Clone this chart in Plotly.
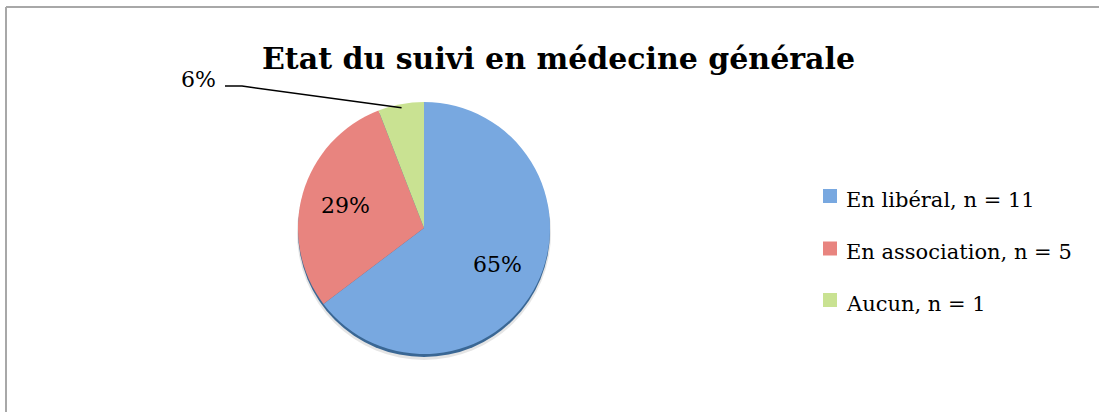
import math
import plotly.graph_objects as go

# ---- data ----
categories = ["En libéral", "En association", "Aucun"]
counts = [11, 5, 1]
colors = ["#78a8e0", "#e8847f", "#c9e292"]
title_text = "Etat du suivi en médecine générale"

W, H = 1099, 412
FONT = "DejaVu Serif"

# pie geometry (pixels)
CX, CY, R = 424, 228, 126

def px(x):
    return x / W

def py(y):
    return 1 - y / H

total = sum(counts)
fracs = [c / total for c in counts]
pct_labels = [f"{round(f * 100)}%" for f in fracs]
legend_labels = [f"{c}, n = {n}" for c, n in zip(categories, counts)]

fig = go.Figure()
fig.add_trace(go.Pie(
    labels=categories,
    values=counts,
    marker=dict(colors=colors, line=dict(width=0)),
    sort=False,
    direction="clockwise",
    rotation=0,
    textinfo="none",
    hoverinfo="label+value+percent",
    showlegend=False,
    domain=dict(x=[px(CX - R), px(CX + R)], y=[py(CY + R), py(CY - R)]),
))

shapes = []
# chart frame (top & left edges visible)
shapes.append(dict(type="line", xref="paper", yref="paper", x0=px(6), x1=1.0, y0=py(7), y1=py(7),
                   line=dict(color="#a8a8a8", width=2)))
shapes.append(dict(type="line", xref="paper", yref="paper", x0=px(6), x1=px(6), y0=py(7), y1=0,
                   line=dict(color="#a8a8a8", width=2)))
# soft shadow + rim below the pie
shapes.append(dict(type="circle", xref="paper", yref="paper", layer="below",
                   x0=px(CX - R - 1), x1=px(CX + R + 1), y0=py(CY + R + 6), y1=py(CY - R + 4),
                   fillcolor="rgba(0,0,0,0.10)", line=dict(width=0)))
shapes.append(dict(type="circle", xref="paper", yref="paper", layer="below",
                   x0=px(CX - R), x1=px(CX + R), y0=py(CY + R + 3), y1=py(CY - R + 3),
                   fillcolor="#3a6794", line=dict(width=0)))

annotations = []
cum = 0.0
for i, f in enumerate(fracs):
    mid = (cum + f / 2) * 2 * math.pi
    cum += f
    if f > 0.1:
        d = 0.65 * R
        x = CX + d * math.sin(mid)
        y = CY - d * math.cos(mid)
        annotations.append(dict(x=px(x), y=py(y), xref="paper", yref="paper", text=pct_labels[i],
                                showarrow=False, xanchor="center", yanchor="middle",
                                font=dict(family=FONT, size=22, color="black")))
    else:
        ex = CX + 0.97 * R * math.sin(mid)
        ey = CY - 0.97 * R * math.cos(mid)
        shapes.append(dict(type="path", xref="paper", yref="paper",
                           path=f"M {px(225)} {py(86)} L {px(242)} {py(86)} L {px(ex)} {py(ey)}",
                           line=dict(color="black", width=1.5)))
        annotations.append(dict(x=px(198), y=py(79), xref="paper", yref="paper", text=pct_labels[i],
                                showarrow=False, xanchor="center", yanchor="middle",
                                font=dict(family=FONT, size=22, color="black")))

# legend (drawn from the same arrays)
leg_top = [189, 241.5, 293]
for i, lab in enumerate(legend_labels):
    t = leg_top[i]
    shapes.append(dict(type="rect", xref="paper", yref="paper",
                       x0=px(823), x1=px(837), y0=py(t + 14), y1=py(t),
                       fillcolor=colors[i], line=dict(width=0)))
    annotations.append(dict(x=px(844), y=py(t + 10.5), xref="paper", yref="paper", text=lab,
                            showarrow=False, xanchor="left", yanchor="middle",
                            font=dict(family=FONT, size=21, color="black")))

fig.update_layout(
    width=W, height=H,
    margin=dict(l=0, r=0, t=0, b=0),
    paper_bgcolor="white",
    plot_bgcolor="white",
    title=dict(text=f"<b>{title_text}</b>", x=px(558.5), xanchor="center",
               y=py(58), yanchor="middle", yref="container",
               font=dict(family=FONT, size=30, color="black")),
    shapes=shapes,
    annotations=annotations,
)

fig.write_html("out.html", config={"displayModeBar": False})

# remove the browser's default page margin so the figure sits at (0, 0)
with open("out.html", "r", encoding="utf-8") as fh:
    html = fh.read()
html = html.replace("<head>", "<head><style>html,body{margin:0;padding:0;overflow:hidden;}</style>", 1)
with open("out.html", "w", encoding="utf-8") as fh:
    fh.write(html)
